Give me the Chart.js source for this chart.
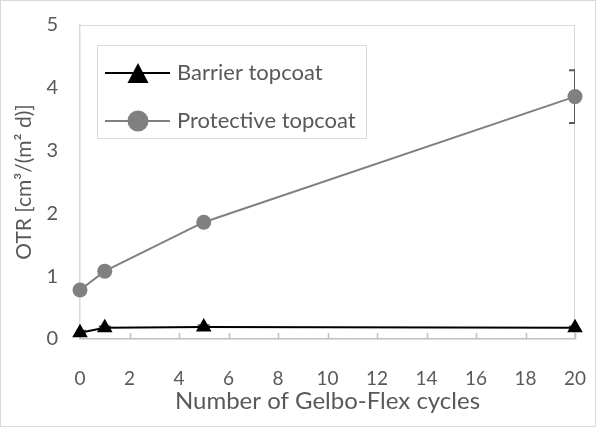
<!DOCTYPE html>
<html>
<head>
<meta charset="utf-8">
<script src="https://cdn.jsdelivr.net/npm/chart.js@4"></script>
<style>
  html, body { margin: 0; padding: 0; background: #fff; }
  #wrap { position: relative; width: 596px; height: 427px; box-sizing: border-box; border: 1px solid #d9d9d9; }
  canvas { display: block; }
</style>
</head>
<body>
<div id="wrap"><canvas id="chart" width="594" height="425"></canvas></div>
<script>
const cycles = [0, 1, 5, 20];
const barrier = [0.1, 0.18, 0.19, 0.18];
const barrierErr = [0.03, 0.02, 0.03, 0.02];
const protective = [0.78, 1.08, 1.86, 3.86];
const protectiveErr = [0.05, 0.03, 0.04, 0.42];
const seriesNames = ["Barrier topcoat", "Protective topcoat"];

const grey = "#595959";
const font = "Lato, 'Open Sans', sans-serif";

const toPoints = vals => vals.map((v, i) => ({x: cycles[i], y: v}));

// error bars, clipped to the plot area like the original
const errorBars = {
    id: "errorBars",
    beforeDatasetsDraw(chart) {
        const {ctx, chartArea: a, scales: {x, y}} = chart;
        ctx.save();
        ctx.beginPath();
        ctx.rect(a.left, a.top, a.right - a.left, a.bottom - a.top);
        ctx.clip();
        ctx.strokeStyle = grey;
        ctx.lineWidth = 2;
        chart.data.datasets.forEach(ds => {
            ds.data.forEach((p, i) => {
                const e = ds.errors[i];
                const px = x.getPixelForValue(p.x);
                const top = y.getPixelForValue(p.y + e);
                const bot = y.getPixelForValue(p.y - e);
                ctx.beginPath();
                ctx.moveTo(px, top); ctx.lineTo(px, bot);
                ctx.moveTo(px - 6, top); ctx.lineTo(px + 6, top);
                ctx.moveTo(px - 6, bot); ctx.lineTo(px + 6, bot);
                ctx.stroke();
            });
        });
        ctx.restore();
    }
};

// plot border and inside tick marks on x
const frame = {
    id: "frame",
    beforeDatasetsDraw(chart) {
        const {ctx, chartArea: a, scales: {x}} = chart;
        ctx.save();
        ctx.strokeStyle = "#d9d9d9";
        ctx.lineWidth = 1;
        ctx.beginPath();
        ctx.moveTo(a.left, a.top + 0.5); ctx.lineTo(a.right, a.top + 0.5);
        ctx.moveTo(a.right - 0.5, a.top); ctx.lineTo(a.right - 0.5, a.bottom);
        ctx.stroke();
        ctx.strokeStyle = "#bfbfbf";
        ctx.lineWidth = 1.5;
        ctx.beginPath();
        x.ticks.forEach(t => {
            const px = Math.round(x.getPixelForValue(t.value)) + 0.5;
            ctx.moveTo(px, a.bottom); ctx.lineTo(px, a.bottom - 6);
        });
        ctx.stroke();
        ctx.restore();
    }
};

// legend box inside the plot
const boxLegend = {
    id: "boxLegend",
    afterDraw(chart) {
        const {ctx} = chart;
        const left = 96, top = 44, w = 269, h = 93;
        ctx.save();
        ctx.fillStyle = "#fff";
        ctx.fillRect(left, top, w, h);
        ctx.strokeStyle = "#d9d9d9";
        ctx.lineWidth = 1;
        ctx.strokeRect(left + 0.5, top + 0.5, w, h);
        chart.data.datasets.forEach((ds, i) => {
            const cy = top + 28 + i * 48;
            ctx.strokeStyle = ds.borderColor;
            ctx.lineWidth = 2;
            ctx.beginPath();
            ctx.moveTo(104, cy); ctx.lineTo(169, cy);
            ctx.stroke();
            ctx.fillStyle = ds.pointBackgroundColor;
            ctx.beginPath();
            if (ds.pointStyle === "triangle") {
                ctx.moveTo(137, cy - 10);
                ctx.lineTo(147.5, cy + 10);
                ctx.lineTo(126.5, cy + 10);
                ctx.closePath();
            } else {
                ctx.arc(137, cy, 10.5, 0, Math.PI * 2);
            }
            ctx.fill();
            ctx.fillStyle = grey;
            ctx.font = "22px " + font;
            ctx.textBaseline = "middle";
            ctx.fillText(ds.label, 176, cy);
        });
        ctx.restore();
    }
};

new Chart(document.getElementById("chart"), {
    type: "line",
    data: {
        datasets: [
            {
                label: seriesNames[0],
                data: toPoints(barrier),
                errors: barrierErr,
                borderColor: "#000",
                backgroundColor: "#000",
                pointBackgroundColor: "#000",
                pointBorderColor: "#000",
                borderWidth: 2,
                pointStyle: "triangle",
                pointRadius: 9,
                pointBorderWidth: 0,
                clip: false
            },
            {
                label: seriesNames[1],
                data: toPoints(protective),
                errors: protectiveErr,
                borderColor: "#808080",
                backgroundColor: "#808080",
                pointBackgroundColor: "#808080",
                pointBorderColor: "#808080",
                borderWidth: 2,
                pointStyle: "circle",
                pointRadius: 7.5,
                pointBorderWidth: 0,
                clip: false
            }
        ]
    },
    options: {
        responsive: false,
        animation: false,
        layout: {padding: {left: 0, top: 24, right: 20, bottom: 0}},
        plugins: {legend: {display: false}, tooltip: {enabled: false}},
        scales: {
            x: {
                type: "linear",
                min: 0, max: 20,
                ticks: {stepSize: 2, color: grey, font: {family: font, size: 19}, padding: 0},
                grid: {display: false, drawTicks: true, tickLength: 28},
                border: {display: true, color: "#bfbfbf", width: 1.5},
                title: {display: true, text: "Number of Gelbo-Flex cycles", color: grey,
                    font: {family: font, size: 24}, padding: {top: 0, bottom: 10}},
                afterFit: s => { s.height = 87; }
            },
            y: {
                min: 0, max: 5,
                ticks: {stepSize: 1, color: grey, font: {family: font, size: 20}, padding: 0},
                grid: {display: false, drawTicks: true, tickLength: 22},
                border: {display: true, color: "#d9d9d9", width: 1.5},
                title: {display: true, text: "OTR [cm³/(m² d)]", color: grey,
                    font: {family: font, size: 21}, padding: {top: 11, bottom: 0}},
                afterFit: s => { s.width = 79; }
            }
        }
    },
    plugins: [frame, errorBars, boxLegend]
});
</script>
</body>
</html>
